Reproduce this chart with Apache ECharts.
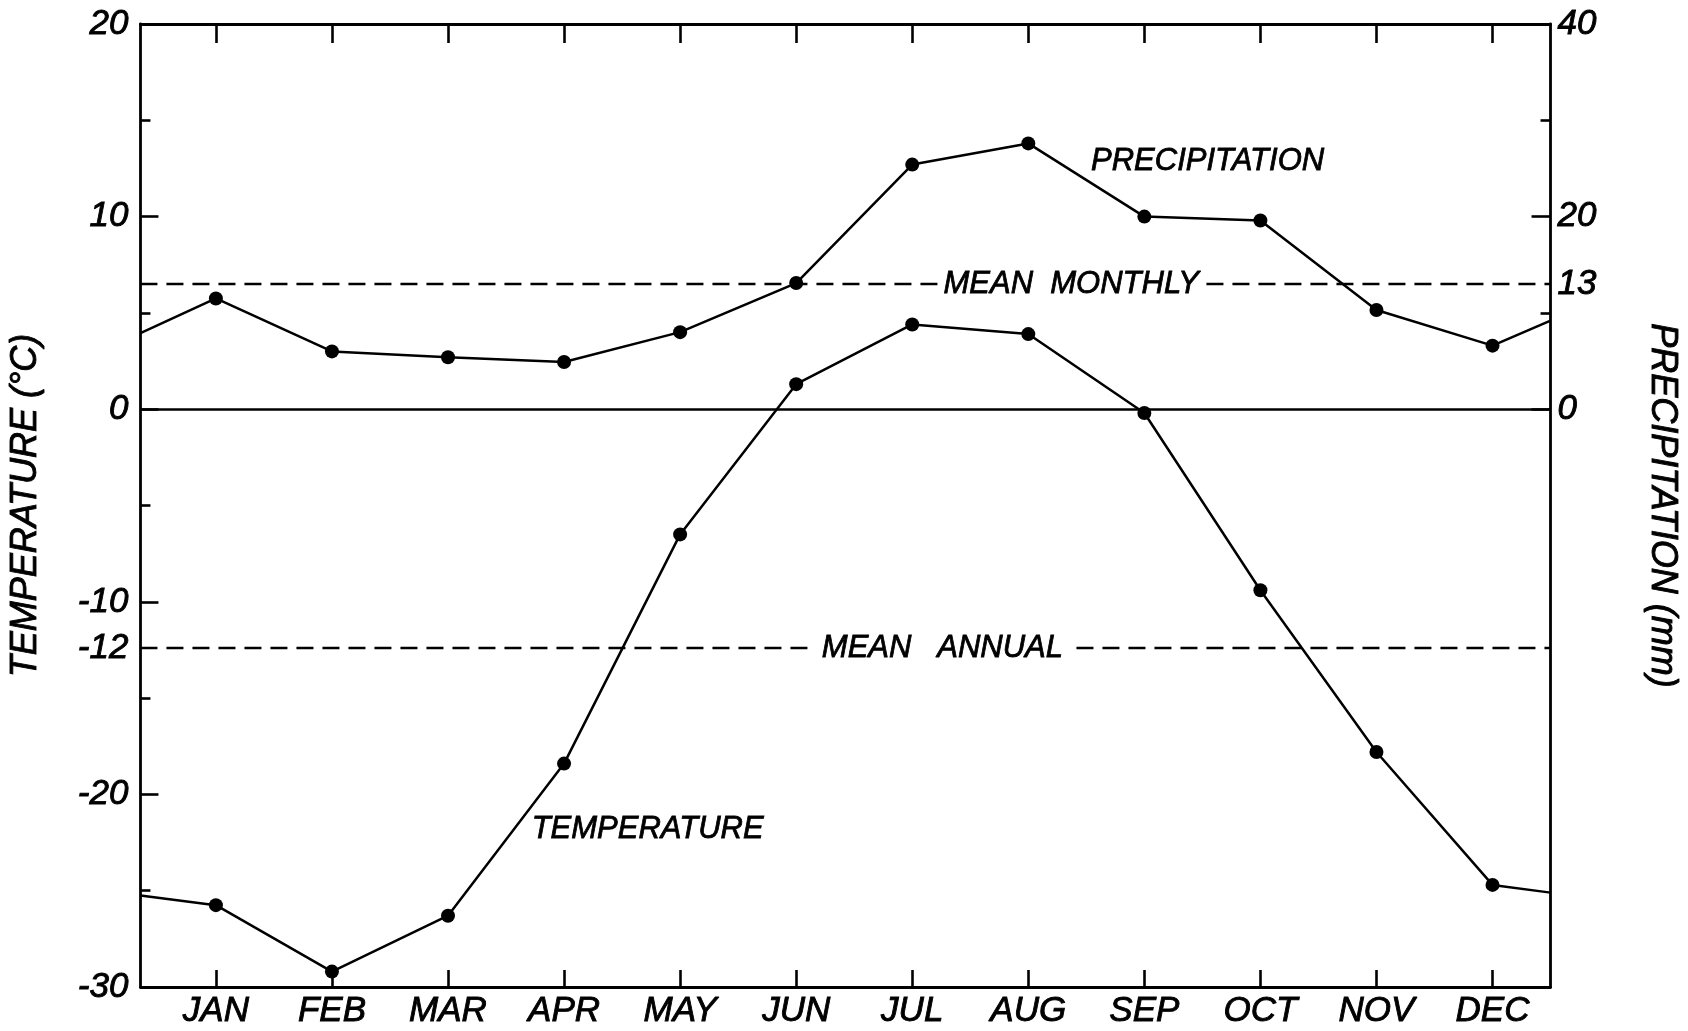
<!DOCTYPE html>
<html>
<head>
<meta charset="utf-8">
<script src="https://cdn.jsdelivr.net/npm/echarts@6/dist/echarts.min.js"></script>
<style>
  html, body { margin: 0; padding: 0; background: #fff; }
  #chart { width: 1688px; height: 1031px; }
</style>
</head>
<body>
<div id="chart"></div>
<script>
// ---- data ----
const months = ['JAN', 'FEB', 'MAR', 'APR', 'MAY', 'JUN', 'JUL', 'AUG', 'SEP', 'OCT', 'NOV', 'DEC'];
const monthPos = [1, 2, 3, 4, 5, 6, 7, 8, 9, 10, 11, 12];
const temperature = [-25.75, -29.2, -26.3, -18.4, -6.5, 1.3, 4.4, 3.9, -0.2, -9.4, -17.8, -24.7];   // °C
const precipitation = [11.5, 6.0, 5.4, 4.9, 8.0, 13.1, 25.4, 27.6, 20.0, 19.6, 10.3, 6.6];        // mm
const temperatureEdges = [-25.25, -25.1];   // where the curve meets the left / right frame
const precipitationEdges = [7.9, 9.2];
const meanAnnualTemp = -12.4;
const meanMonthlyPrecip = 13;
const xRange = [0.35, 12.5];
const tempRange = [-30, 20];
const precipRange = [-60, 40];
const leftLabelValues = [20, 10, 0, -10, meanAnnualTemp, -20, -30];
const rightLabelValues = [40, 20, meanMonthlyPrecip, 0];
const rightMajorTicks = [0, 20, 40];
const rightMinorTicks = [10, 30];
const annotations = [
  { text: 'PRECIPITATION', x: 9.545, y: 25.7, axis: 1, bg: false },
  { text: 'MEAN  MONTHLY', x: 8.37, y: meanMonthlyPrecip, axis: 1, bg: true, pad: [0, 4] },
  { text: 'MEAN   ANNUAL', x: 7.26, y: meanAnnualTemp, axis: 0, bg: true, pad: [0, 12] },
  { text: 'TEMPERATURE', x: 4.72, y: -21.8, axis: 0, bg: false }
];

// ---- build series data ----
function buildLine(values, edges) {
  const d = [{ value: [xRange[0], edges[0]], symbol: 'none' }];
  values.forEach((v, i) => d.push([monthPos[i], v]));
  d.push({ value: [xRange[1], edges[1]], symbol: 'none' });
  return d;
}

const FONT = 'Liberation Sans';
const black = '#000';
const heavy = { textBorderColor: black, textBorderWidth: 0.9 };

const chart = echarts.init(document.getElementById('chart'), null, { renderer: 'canvas' });

const option = {
  backgroundColor: '#fff',
  animation: false,
  grid: { left: 140, right: 129, top: 24, bottom: 44, containLabel: false },
  xAxis: [
    {
      type: 'value', min: xRange[0], max: xRange[1], position: 'bottom',
      axisLine: { show: true, onZero: false, lineStyle: { color: black, width: 2.8 } },
      axisTick: { show: true, inside: true, length: 17, customValues: monthPos, lineStyle: { color: black, width: 2.6 } },
      axisLabel: Object.assign({
        show: true, customValues: monthPos, margin: 7,
        formatter: v => months[Math.round(v) - 1],
        color: black, fontFamily: FONT, fontStyle: 'italic', fontSize: 35
      }, heavy),
      splitLine: { show: false }
    },
    {
      type: 'value', min: xRange[0], max: xRange[1], position: 'top',
      axisLine: { show: true, onZero: false, lineStyle: { color: black, width: 2.8 } },
      axisTick: { show: true, inside: true, length: 19, customValues: monthPos, lineStyle: { color: black, width: 2.6 } },
      axisLabel: { show: false },
      splitLine: { show: false }
    }
  ],
  yAxis: [
    {
      type: 'value', min: tempRange[0], max: tempRange[1], interval: 10, position: 'left',
      name: 'TEMPERATURE (°C)', nameLocation: 'middle', nameRotate: 90, nameGap: 96,
      nameTextStyle: Object.assign({ color: black, fontFamily: FONT, fontStyle: 'italic', fontSize: 36 }, heavy),
      axisLine: { show: true, onZero: false, lineStyle: { color: black, width: 2.8 } },
      axisTick: { show: true, inside: true, length: 18, lineStyle: { color: black, width: 2.6 } },
      minorTick: { show: true, splitNumber: 2, length: 10, lineStyle: { color: black, width: 2.6 } },
      axisLabel: Object.assign({
        show: true, customValues: leftLabelValues, margin: 12,
        formatter: v => String(Math.round(v)),
        color: black, fontFamily: FONT, fontStyle: 'italic', fontSize: 35
      }, heavy),
      splitLine: { show: false }
    },
    {
      type: 'value', min: precipRange[0], max: precipRange[1], position: 'right',
      name: 'PRECIPITATION (mm)', nameLocation: 'middle', nameRotate: -90, nameGap: 93,
      nameTextStyle: Object.assign({ color: black, fontFamily: FONT, fontStyle: 'italic', fontSize: 36 }, heavy),
      axisLine: { show: true, onZero: false, lineStyle: { color: black, width: 2.8 } },
      axisTick: { show: true, inside: true, length: 19, customValues: rightMajorTicks, lineStyle: { color: black, width: 2.6 } },
      axisLabel: Object.assign({
        show: true, customValues: rightLabelValues, margin: 7,
        color: black, fontFamily: FONT, fontStyle: 'italic', fontSize: 35
      }, heavy),
      splitLine: { show: false }
    },
    {
      type: 'value', min: precipRange[0], max: precipRange[1], position: 'right',
      axisLine: { show: false },
      axisTick: { show: true, inside: true, length: 10, customValues: rightMinorTicks, lineStyle: { color: black, width: 2.6 } },
      axisLabel: { show: false },
      splitLine: { show: false }
    }
  ],
  series: [
    {
      name: 'Temperature', type: 'line', xAxisIndex: 0, yAxisIndex: 0, z: 3,
      data: buildLine(temperature, temperatureEdges),
      symbol: 'circle', symbolSize: 14,
      itemStyle: { color: black },
      lineStyle: { color: black, width: 2.5 },
      markLine: {
        silent: true, symbol: 'none', label: { show: false },
        data: [
          { yAxis: 0, lineStyle: { type: 'solid', color: black, width: 2.5 } },
          { yAxis: meanAnnualTemp, lineStyle: { type: [17, 9], color: black, width: 2.4 } }
        ]
      }
    },
    {
      name: 'Precipitation', type: 'line', xAxisIndex: 0, yAxisIndex: 1, z: 3,
      data: buildLine(precipitation, precipitationEdges),
      symbol: 'circle', symbolSize: 14,
      itemStyle: { color: black },
      lineStyle: { color: black, width: 2.5 },
      markLine: {
        silent: true, symbol: 'none', label: { show: false },
        data: [
          { yAxis: meanMonthlyPrecip, lineStyle: { type: [17, 9], color: black, width: 2.4 } }
        ]
      }
    }
  ]
};

chart.setOption(option);

// text annotations placed through the chart's own scales
const graphics = annotations.map(a => {
  const p = chart.convertToPixel({ xAxisIndex: 0, yAxisIndex: a.axis }, [a.x, a.y]);
  const style = {
    text: a.text, x: p[0], y: p[1],
    font: 'italic 31px "' + FONT + '"',
    fill: black, stroke: black, lineWidth: 0.8,
    align: 'center', verticalAlign: 'middle'
  };
  if (a.bg) { style.backgroundColor = '#fff'; style.padding = a.pad; }
  return { type: 'text', z: 100, style };
});
chart.setOption({ graphic: graphics });
</script>
</body>
</html>
